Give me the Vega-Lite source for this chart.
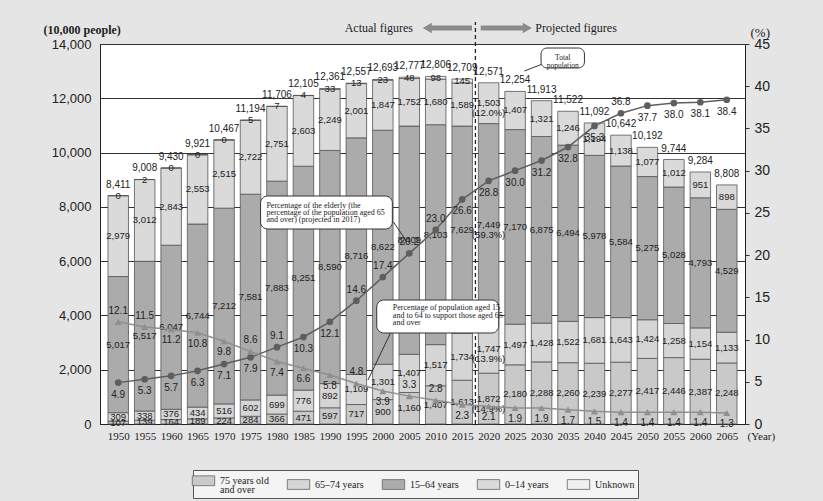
{
"$schema": "https://vega.github.io/schema/vega-lite/v6.json",
"width": 645, "height": 380,
"autosize": {"type": "none"},
"padding": {"left": 100, "top": 44, "right": 78, "bottom": 77},
"background": "#e5e5e5",
"config": {
  "view": {"fill": "#ffffff", "stroke": "#222222", "strokeWidth": 1},
  "axis": {"domainColor": "#222222", "labelColor": "#222222", "titleColor": "#222222"},
  "style": {"guide-label": {"lineHeight": 9}}
},
"datasets": {
"seg": [
{"year":1950,"group":"75 years old and over","value":107},{"year":1950,"group":"65–74 years","value":309},{"year":1950,"group":"15–64 years","value":5017},{"year":1950,"group":"0–14 years","value":2979},{"year":1950,"group":"Unknown","value":0},
{"year":1955,"group":"75 years old and over","value":139},{"year":1955,"group":"65–74 years","value":338},{"year":1955,"group":"15–64 years","value":5517},{"year":1955,"group":"0–14 years","value":3012},{"year":1955,"group":"Unknown","value":2},
{"year":1960,"group":"75 years old and over","value":164},{"year":1960,"group":"65–74 years","value":376},{"year":1960,"group":"15–64 years","value":6047},{"year":1960,"group":"0–14 years","value":2843},{"year":1960,"group":"Unknown","value":0},
{"year":1965,"group":"75 years old and over","value":189},{"year":1965,"group":"65–74 years","value":434},{"year":1965,"group":"15–64 years","value":6744},{"year":1965,"group":"0–14 years","value":2553},{"year":1965,"group":"Unknown","value":0},
{"year":1970,"group":"75 years old and over","value":224},{"year":1970,"group":"65–74 years","value":516},{"year":1970,"group":"15–64 years","value":7212},{"year":1970,"group":"0–14 years","value":2515},{"year":1970,"group":"Unknown","value":0},
{"year":1975,"group":"75 years old and over","value":284},{"year":1975,"group":"65–74 years","value":602},{"year":1975,"group":"15–64 years","value":7581},{"year":1975,"group":"0–14 years","value":2722},{"year":1975,"group":"Unknown","value":5},
{"year":1980,"group":"75 years old and over","value":366},{"year":1980,"group":"65–74 years","value":699},{"year":1980,"group":"15–64 years","value":7883},{"year":1980,"group":"0–14 years","value":2751},{"year":1980,"group":"Unknown","value":7},
{"year":1985,"group":"75 years old and over","value":471},{"year":1985,"group":"65–74 years","value":776},{"year":1985,"group":"15–64 years","value":8251},{"year":1985,"group":"0–14 years","value":2603},{"year":1985,"group":"Unknown","value":4},
{"year":1990,"group":"75 years old and over","value":597},{"year":1990,"group":"65–74 years","value":892},{"year":1990,"group":"15–64 years","value":8590},{"year":1990,"group":"0–14 years","value":2249},{"year":1990,"group":"Unknown","value":33},
{"year":1995,"group":"75 years old and over","value":717},{"year":1995,"group":"65–74 years","value":1109},{"year":1995,"group":"15–64 years","value":8716},{"year":1995,"group":"0–14 years","value":2001},{"year":1995,"group":"Unknown","value":13},
{"year":2000,"group":"75 years old and over","value":900},{"year":2000,"group":"65–74 years","value":1301},{"year":2000,"group":"15–64 years","value":8622},{"year":2000,"group":"0–14 years","value":1847},{"year":2000,"group":"Unknown","value":23},
{"year":2005,"group":"75 years old and over","value":1160},{"year":2005,"group":"65–74 years","value":1407},{"year":2005,"group":"15–64 years","value":8409},{"year":2005,"group":"0–14 years","value":1752},{"year":2005,"group":"Unknown","value":48},
{"year":2010,"group":"75 years old and over","value":1407},{"year":2010,"group":"65–74 years","value":1517},{"year":2010,"group":"15–64 years","value":8103},{"year":2010,"group":"0–14 years","value":1680},{"year":2010,"group":"Unknown","value":98},
{"year":2015,"group":"75 years old and over","value":1613},{"year":2015,"group":"65–74 years","value":1734},{"year":2015,"group":"15–64 years","value":7629},{"year":2015,"group":"0–14 years","value":1589},{"year":2015,"group":"Unknown","value":145},
{"year":2020,"group":"75 years old and over","value":1872,"share":"14.9%"},{"year":2020,"group":"65–74 years","value":1747,"share":"13.9%"},{"year":2020,"group":"15–64 years","value":7449,"share":"59.3%"},{"year":2020,"group":"0–14 years","value":1503,"share":"12.0%"},
{"year":2025,"group":"75 years old and over","value":2180},{"year":2025,"group":"65–74 years","value":1497},{"year":2025,"group":"15–64 years","value":7170},{"year":2025,"group":"0–14 years","value":1407},
{"year":2030,"group":"75 years old and over","value":2288},{"year":2030,"group":"65–74 years","value":1428},{"year":2030,"group":"15–64 years","value":6875},{"year":2030,"group":"0–14 years","value":1321},
{"year":2035,"group":"75 years old and over","value":2260},{"year":2035,"group":"65–74 years","value":1522},{"year":2035,"group":"15–64 years","value":6494},{"year":2035,"group":"0–14 years","value":1246},
{"year":2040,"group":"75 years old and over","value":2239},{"year":2040,"group":"65–74 years","value":1681},{"year":2040,"group":"15–64 years","value":5978},{"year":2040,"group":"0–14 years","value":1194},
{"year":2045,"group":"75 years old and over","value":2277},{"year":2045,"group":"65–74 years","value":1643},{"year":2045,"group":"15–64 years","value":5584},{"year":2045,"group":"0–14 years","value":1138},
{"year":2050,"group":"75 years old and over","value":2417},{"year":2050,"group":"65–74 years","value":1424},{"year":2050,"group":"15–64 years","value":5275},{"year":2050,"group":"0–14 years","value":1077},
{"year":2055,"group":"75 years old and over","value":2446},{"year":2055,"group":"65–74 years","value":1258},{"year":2055,"group":"15–64 years","value":5028},{"year":2055,"group":"0–14 years","value":1012},
{"year":2060,"group":"75 years old and over","value":2387},{"year":2060,"group":"65–74 years","value":1154},{"year":2060,"group":"15–64 years","value":4793},{"year":2060,"group":"0–14 years","value":951},
{"year":2065,"group":"75 years old and over","value":2248},{"year":2065,"group":"65–74 years","value":1133},{"year":2065,"group":"15–64 years","value":4529},{"year":2065,"group":"0–14 years","value":898}
],
"tot": [
{"year":1950,"total":8411,"elderly":4.9,"support":12.1},
{"year":1955,"total":9008,"elderly":5.3,"support":11.5},
{"year":1960,"total":9430,"elderly":5.7,"support":11.2},
{"year":1965,"total":9921,"elderly":6.3,"support":10.8},
{"year":1970,"total":10467,"elderly":7.1,"support":9.8},
{"year":1975,"total":11194,"elderly":7.9,"support":8.6},
{"year":1980,"total":11706,"elderly":9.1,"support":7.4},
{"year":1985,"total":12105,"elderly":10.3,"support":6.6},
{"year":1990,"total":12361,"elderly":12.1,"support":5.8},
{"year":1995,"total":12557,"elderly":14.6,"support":4.8},
{"year":2000,"total":12693,"elderly":17.4,"support":3.9},
{"year":2005,"total":12777,"elderly":20.2,"support":3.3},
{"year":2010,"total":12806,"elderly":23.0,"support":2.8},
{"year":2015,"total":12709,"elderly":26.6,"support":2.3},
{"year":2020,"total":12571,"elderly":28.8,"support":2.1},
{"year":2025,"total":12254,"elderly":30.0,"support":1.9},
{"year":2030,"total":11913,"elderly":31.2,"support":1.9},
{"year":2035,"total":11522,"elderly":32.8,"support":1.7},
{"year":2040,"total":11092,"elderly":35.3,"support":1.5},
{"year":2045,"total":10642,"elderly":36.8,"support":1.4},
{"year":2050,"total":10192,"elderly":37.7,"support":1.4},
{"year":2055,"total":9744,"elderly":38.0,"support":1.4},
{"year":2060,"total":9284,"elderly":38.1,"support":1.4},
{"year":2065,"total":8808,"elderly":38.4,"support":1.3}
]
},
"layer": [
{
 "layer": [
  {
   "data": {"name": "seg"},
   "transform": [
     {"calculate": "indexof(['75 years old and over','65–74 years','15–64 years','0–14 years','Unknown'], datum.group)", "as": "rank"},
     {"stack": "value", "groupby": ["year"], "sort": [{"field": "rank", "order": "ascending"}], "as": ["v0", "v1"]},
     {"calculate": "(datum.v0 + datum.v1) / 2", "as": "mid"},
     {"calculate": "format(datum.value, ',') + (datum.share ? '\\n(' + datum.share + ')' : '')", "as": "label"}
   ],
   "layer": [
    {
     "mark": {"type": "bar", "size": 20.5, "stroke": "#555555", "strokeWidth": 0.8},
     "encoding": {
      "x": {"field": "year", "type": "quantitative", "scale": {"domain": [1947.5, 2067.5], "nice": false, "zero": false},
            "axis": {"values": [1950,1955,1960,1965,1970,1975,1980,1985,1990,1995,2000,2005,2010,2015,2020,2025,2030,2035,2040,2045,2050,2055,2060,2065], "tickCount": 24, "format": "d", "labelFont": "Liberation Serif", "labelFontSize": 11, "ticks": false, "labelPadding": 6, "labelFlush": false, "labelOverlap": false, "grid": false, "title": "(Year)", "titleFont": "Liberation Serif", "titleFontSize": 11, "titleFontWeight": "normal", "titleX": 647, "titleY": 12.5, "titleAlign": "left", "titleBaseline": "middle"}},
      "y": {"field": "v0", "type": "quantitative", "scale": {"domain": [0, 14000], "nice": false, "zero": true},
            "axis": {"values": [0,2000,4000,6000,8000,10000,12000,14000], "format": ",d", "labelFont": "Liberation Sans", "labelFontSize": 13, "ticks": false, "labelPadding": 9, "grid": true, "gridColor": "#333333", "gridWidth": 1, "title": "(10,000 people)", "titleAngle": 0, "titleAlign": "left", "titleBaseline": "middle", "titleX": -57, "titleY": -15, "titleFont": "Liberation Serif", "titleFontSize": 12, "titleFontWeight": "bold"}},
      "y2": {"field": "v1"},
      "color": {"field": "group", "type": "nominal",
                "scale": {"domain": ["75 years old and over","65–74 years","15–64 years","0–14 years","Unknown"],
                          "range": ["#c9c9c9","#d5d5d5","#ababab","#dadada","#f0f0f0"]},
                "legend": {"orient": "none", "legendX": 93, "legendY": 426, "direction": "horizontal",
                           "title": null, "symbolType": "M-1.6,-0.7H1.6V0.7H-1.6Z", "symbolSize": 196,
                           "symbolStrokeColor": "#666666", "symbolStrokeWidth": 0.8,
                           "labelFont": "Liberation Serif", "labelFontSize": 10, "labelColor": "#222222", "labelOffset": 9,
                           "columnPadding": 16, "padding": 3, "strokeColor": "#555555", "fillColor": "#f4f4f4",
                           "labelExpr": "datum.label == '75 years old and over' ? ['75 years old', 'and over'] : datum.label"}}
     }
    },
    {
     "mark": {"type": "text", "font": "Liberation Sans Narrow, Liberation Sans", "fontSize": 9.5, "lineBreak": "\n", "color": "#222222", "lineHeight": 10},
     "encoding": {
      "x": {"field": "year", "type": "quantitative", "axis": {"values": [1950,1955,1960,1965,1970,1975,1980,1985,1990,1995,2000,2005,2010,2015,2020,2025,2030,2035,2040,2045,2050,2055,2060,2065], "tickCount": 24, "format": "d", "labelFont": "Liberation Serif", "labelFontSize": 11, "ticks": false, "labelPadding": 6, "labelFlush": false, "labelOverlap": false, "grid": false, "title": "(Year)", "titleFont": "Liberation Serif", "titleFontSize": 11, "titleFontWeight": "normal", "titleX": 647, "titleY": 12.5, "titleAlign": "left", "titleBaseline": "middle"}},
      "y": {"field": "mid", "type": "quantitative", "axis": {"values": [0,2000,4000,6000,8000,10000,12000,14000], "format": ",d", "labelFont": "Liberation Sans", "labelFontSize": 13, "ticks": false, "labelPadding": 9, "grid": true, "gridColor": "#333333", "gridWidth": 1, "title": "(10,000 people)", "titleAngle": 0, "titleAlign": "left", "titleBaseline": "middle", "titleX": -57, "titleY": -15, "titleFont": "Liberation Serif", "titleFontSize": 12, "titleFontWeight": "bold"}},
      "text": {"field": "label", "type": "nominal"}
     }
    }
   ]
  },
  {
   "data": {"name": "tot"},
   "mark": {"type": "text", "font": "Liberation Sans Narrow, Liberation Sans", "fontSize": 10, "dy": -11, "color": "#222222"},
   "encoding": {
    "x": {"field": "year", "type": "quantitative", "axis": {"values": [1950,1955,1960,1965,1970,1975,1980,1985,1990,1995,2000,2005,2010,2015,2020,2025,2030,2035,2040,2045,2050,2055,2060,2065], "tickCount": 24, "format": "d", "labelFont": "Liberation Serif", "labelFontSize": 11, "ticks": false, "labelPadding": 6, "labelFlush": false, "labelOverlap": false, "grid": false, "title": "(Year)", "titleFont": "Liberation Serif", "titleFontSize": 11, "titleFontWeight": "normal", "titleX": 647, "titleY": 12.5, "titleAlign": "left", "titleBaseline": "middle"}},
    "y": {"field": "total", "type": "quantitative", "axis": {"values": [0,2000,4000,6000,8000,10000,12000,14000], "format": ",d", "labelFont": "Liberation Sans", "labelFontSize": 13, "ticks": false, "labelPadding": 9, "grid": true, "gridColor": "#333333", "gridWidth": 1, "title": "(10,000 people)", "titleAngle": 0, "titleAlign": "left", "titleBaseline": "middle", "titleX": -57, "titleY": -15, "titleFont": "Liberation Serif", "titleFontSize": 12, "titleFontWeight": "bold"}},
    "text": {"field": "total", "type": "quantitative", "format": ","}
   }
  },
  {
   "data": {"values": [{}]},
   "layer": [
    {"mark": {"type": "rule", "strokeDash": [4, 3], "strokeWidth": 1.3, "color": "#222222"},
     "encoding": {"x": {"datum": 2017.5, "type": "quantitative"}, "y": {"datum": 0, "type": "quantitative"}, "y2": {"datum": 14810}}},
    {"mark": {"type": "rule", "strokeWidth": 5, "color": "#8a8a8a"},
     "encoding": {"x": {"datum": 2009.0, "type": "quantitative"}, "x2": {"datum": 2016.85}, "y": {"datum": 14589, "type": "quantitative"}}},
    {"mark": {"type": "rule", "strokeWidth": 5, "color": "#8a8a8a"},
     "encoding": {"x": {"datum": 2018.5, "type": "quantitative"}, "x2": {"datum": 2026.6}, "y": {"datum": 14589, "type": "quantitative"}}},
    {"mark": {"type": "point", "shape": "triangle-left", "filled": true, "size": 110, "color": "#8a8a8a", "opacity": 1},
     "encoding": {"x": {"datum": 2008.4, "type": "quantitative"}, "y": {"datum": 14589, "type": "quantitative"}}},
    {"mark": {"type": "point", "shape": "triangle-right", "filled": true, "size": 110, "color": "#8a8a8a", "opacity": 1},
     "encoding": {"x": {"datum": 2027.3, "type": "quantitative"}, "y": {"datum": 14589, "type": "quantitative"}}},
    {"mark": {"type": "text", "text": "Actual figures", "align": "right", "baseline": "middle", "font": "Liberation Serif", "fontSize": 12, "color": "#222222"},
     "encoding": {"x": {"datum": 2005.7, "type": "quantitative"}, "y": {"datum": 14589, "type": "quantitative"}}},
    {"mark": {"type": "text", "text": "Projected figures", "align": "left", "baseline": "middle", "font": "Liberation Serif", "fontSize": 12, "color": "#222222"},
     "encoding": {"x": {"datum": 2028.8, "type": "quantitative"}, "y": {"datum": 14589, "type": "quantitative"}}},
    {"mark": {"type": "rule", "strokeWidth": 1, "color": "#333333"},
     "encoding": {"x": {"datum": 2002.0, "type": "quantitative"}, "x2": {"datum": 2004.6}, "y": {"datum": 7442, "type": "quantitative"}, "y2": {"datum": 6705}}},
    {"mark": {"type": "rect", "fill": "#ffffff", "stroke": "#333333", "strokeWidth": 1, "cornerRadius": 7},
     "encoding": {"x": {"datum": 1976.9, "type": "quantitative"}, "x2": {"datum": 2001.8}, "y": {"datum": 8400, "type": "quantitative"}, "y2": {"datum": 7184}}},
    {"mark": {"type": "text", "text": ["Percentage of the elderly (the", "percentage of the population aged 65", "and over) (projected in 2017)"], "align": "left", "baseline": "top", "font": "Liberation Serif", "fontSize": 8, "lineHeight": 7, "color": "#222222"},
     "encoding": {"x": {"datum": 1978.0, "type": "quantitative"}, "y": {"datum": 8180, "type": "quantitative"}}},
    {"mark": {"type": "rule", "strokeWidth": 1, "color": "#333333"},
     "encoding": {"x": {"datum": 2001.45, "type": "quantitative"}, "x2": {"datum": 1997.2}, "y": {"datum": 3353, "type": "quantitative"}, "y2": {"datum": 1621}}},
    {"mark": {"type": "rect", "fill": "#ffffff", "stroke": "#333333", "strokeWidth": 1, "cornerRadius": 7},
     "encoding": {"x": {"datum": 1998.85, "type": "quantitative"}, "x2": {"datum": 2021.9}, "y": {"datum": 4568, "type": "quantitative"}, "y2": {"datum": 3353}}},
    {"mark": {"type": "text", "text": ["Percentage of population aged 15", "and to 64 to support those aged 65", "and over"], "align": "left", "baseline": "top", "font": "Liberation Serif", "fontSize": 8, "lineHeight": 7.5, "color": "#222222"},
     "encoding": {"x": {"datum": 2001.9, "type": "quantitative"}, "y": {"datum": 4403, "type": "quantitative"}}},
    {"mark": {"type": "rule", "strokeWidth": 1, "color": "#333333"},
     "encoding": {"x": {"datum": 2030.66, "type": "quantitative"}, "x2": {"datum": 2026.76}, "y": {"datum": 13300, "type": "quantitative"}, "y2": {"datum": 13005}}},
    {"mark": {"type": "rect", "fill": "#ffffff", "stroke": "#333333", "strokeWidth": 1, "cornerRadius": 6},
     "encoding": {"x": {"datum": 2029.9, "type": "quantitative"}, "x2": {"datum": 2038.1}, "y": {"datum": 13852, "type": "quantitative"}, "y2": {"datum": 13116}}},
    {"mark": {"type": "text", "text": ["Total", "population"], "align": "center", "baseline": "middle", "font": "Liberation Serif", "fontSize": 7.5, "lineHeight": 7.5, "color": "#222222"},
     "encoding": {"x": {"datum": 2034.0, "type": "quantitative"}, "y": {"datum": 13484, "type": "quantitative"}}}
   ]
  }
 ]
},
{
 "data": {"name": "tot"},
 "layer": [
  {
   "mark": {"type": "line", "color": "#5e5e5e", "strokeWidth": 1.5},
   "encoding": {
    "x": {"field": "year", "type": "quantitative", "axis": {"values": [1950,1955,1960,1965,1970,1975,1980,1985,1990,1995,2000,2005,2010,2015,2020,2025,2030,2035,2040,2045,2050,2055,2060,2065], "tickCount": 24, "format": "d", "labelFont": "Liberation Serif", "labelFontSize": 11, "ticks": false, "labelPadding": 6, "labelFlush": false, "labelOverlap": false, "grid": false, "title": "(Year)", "titleFont": "Liberation Serif", "titleFontSize": 11, "titleFontWeight": "normal", "titleX": 647, "titleY": 12.5, "titleAlign": "left", "titleBaseline": "middle"}},
    "y": {"field": "elderly", "type": "quantitative", "scale": {"domain": [0, 45], "nice": false, "zero": true},
          "axis": {"orient": "right", "values": [0,5,10,15,20,25,30,35,40,45], "format": "d", "labelFont": "Liberation Sans", "labelFontSize": 14, "tickSize": 4, "tickColor": "#333333", "labelPadding": 5, "grid": false, "title": "(%)", "titleAngle": 0, "titleAlign": "left", "titleBaseline": "middle", "titleX": 5, "titleY": -12, "titleFont": "Liberation Serif", "titleFontSize": 13, "titleFontWeight": "normal"}}
   }
  },
  {
   "mark": {"type": "point", "shape": "circle", "filled": true, "size": 45, "color": "#5e5e5e", "opacity": 1},
   "encoding": {
    "x": {"field": "year", "type": "quantitative", "axis": {"values": [1950,1955,1960,1965,1970,1975,1980,1985,1990,1995,2000,2005,2010,2015,2020,2025,2030,2035,2040,2045,2050,2055,2060,2065], "tickCount": 24, "format": "d", "labelFont": "Liberation Serif", "labelFontSize": 11, "ticks": false, "labelPadding": 6, "labelFlush": false, "labelOverlap": false, "grid": false, "title": "(Year)", "titleFont": "Liberation Serif", "titleFontSize": 11, "titleFontWeight": "normal", "titleX": 647, "titleY": 12.5, "titleAlign": "left", "titleBaseline": "middle"}},
    "y": {"field": "elderly", "type": "quantitative", "axis": {"orient": "right", "values": [0,5,10,15,20,25,30,35,40,45], "format": "d", "labelFont": "Liberation Sans", "labelFontSize": 14, "tickSize": 4, "tickColor": "#333333", "labelPadding": 5, "grid": false, "title": "(%)", "titleAngle": 0, "titleAlign": "left", "titleBaseline": "middle", "titleX": 5, "titleY": -12, "titleFont": "Liberation Serif", "titleFontSize": 13, "titleFontWeight": "normal"}}
   }
  },
  {
   "mark": {"type": "line", "color": "#8f8f8f", "strokeWidth": 1.5},
   "encoding": {
    "x": {"field": "year", "type": "quantitative", "axis": {"values": [1950,1955,1960,1965,1970,1975,1980,1985,1990,1995,2000,2005,2010,2015,2020,2025,2030,2035,2040,2045,2050,2055,2060,2065], "tickCount": 24, "format": "d", "labelFont": "Liberation Serif", "labelFontSize": 11, "ticks": false, "labelPadding": 6, "labelFlush": false, "labelOverlap": false, "grid": false, "title": "(Year)", "titleFont": "Liberation Serif", "titleFontSize": 11, "titleFontWeight": "normal", "titleX": 647, "titleY": 12.5, "titleAlign": "left", "titleBaseline": "middle"}},
    "y": {"field": "support", "type": "quantitative", "axis": {"orient": "right", "values": [0,5,10,15,20,25,30,35,40,45], "format": "d", "labelFont": "Liberation Sans", "labelFontSize": 14, "tickSize": 4, "tickColor": "#333333", "labelPadding": 5, "grid": false, "title": "(%)", "titleAngle": 0, "titleAlign": "left", "titleBaseline": "middle", "titleX": 5, "titleY": -12, "titleFont": "Liberation Serif", "titleFontSize": 13, "titleFontWeight": "normal"}}
   }
  },
  {
   "mark": {"type": "point", "shape": "triangle-up", "filled": true, "size": 50, "color": "#8f8f8f", "opacity": 1},
   "encoding": {
    "x": {"field": "year", "type": "quantitative", "axis": {"values": [1950,1955,1960,1965,1970,1975,1980,1985,1990,1995,2000,2005,2010,2015,2020,2025,2030,2035,2040,2045,2050,2055,2060,2065], "tickCount": 24, "format": "d", "labelFont": "Liberation Serif", "labelFontSize": 11, "ticks": false, "labelPadding": 6, "labelFlush": false, "labelOverlap": false, "grid": false, "title": "(Year)", "titleFont": "Liberation Serif", "titleFontSize": 11, "titleFontWeight": "normal", "titleX": 647, "titleY": 12.5, "titleAlign": "left", "titleBaseline": "middle"}},
    "y": {"field": "support", "type": "quantitative", "axis": {"orient": "right", "values": [0,5,10,15,20,25,30,35,40,45], "format": "d", "labelFont": "Liberation Sans", "labelFontSize": 14, "tickSize": 4, "tickColor": "#333333", "labelPadding": 5, "grid": false, "title": "(%)", "titleAngle": 0, "titleAlign": "left", "titleBaseline": "middle", "titleX": 5, "titleY": -12, "titleFont": "Liberation Serif", "titleFontSize": 13, "titleFontWeight": "normal"}}
   }
  },
  {
   "transform": [{"calculate": "indexof([1980,1995,2000,2005,2010,2045], datum.year) >= 0 ? -11 : 12", "as": "edy"},
                 {"calculate": "indexof([1950,1955,1975,1995,2005,2010], datum.year) >= 0 ? -11 : 11", "as": "sdy"}],
   "layer": [
    {"transform": [{"filter": "datum.edy < 0"}],
     "mark": {"type": "text", "font": "Liberation Sans Narrow, Liberation Sans", "fontSize": 10, "dy": -11, "color": "#222222"},
     "encoding": {"x": {"field": "year", "type": "quantitative"}, "y": {"field": "elderly", "type": "quantitative"}, "text": {"field": "elderly", "type": "quantitative", "format": ".1f"}}},
    {"transform": [{"filter": "datum.edy > 0"}],
     "mark": {"type": "text", "font": "Liberation Sans Narrow, Liberation Sans", "fontSize": 10, "dy": 12, "color": "#222222"},
     "encoding": {"x": {"field": "year", "type": "quantitative"}, "y": {"field": "elderly", "type": "quantitative"}, "text": {"field": "elderly", "type": "quantitative", "format": ".1f"}}},
    {"transform": [{"filter": "datum.sdy < 0"}],
     "mark": {"type": "text", "font": "Liberation Sans Narrow, Liberation Sans", "fontSize": 10, "dy": -11, "color": "#222222"},
     "encoding": {"x": {"field": "year", "type": "quantitative"}, "y": {"field": "support", "type": "quantitative"}, "text": {"field": "support", "type": "quantitative", "format": ".1f"}}},
    {"transform": [{"filter": "datum.sdy > 0"}],
     "mark": {"type": "text", "font": "Liberation Sans Narrow, Liberation Sans", "fontSize": 10, "dy": 11, "color": "#222222"},
     "encoding": {"x": {"field": "year", "type": "quantitative"}, "y": {"field": "support", "type": "quantitative"}, "text": {"field": "support", "type": "quantitative", "format": ".1f"}}}
   ]
  }
 ]
}
],
"resolve": {"scale": {"y": "independent"}}
}
